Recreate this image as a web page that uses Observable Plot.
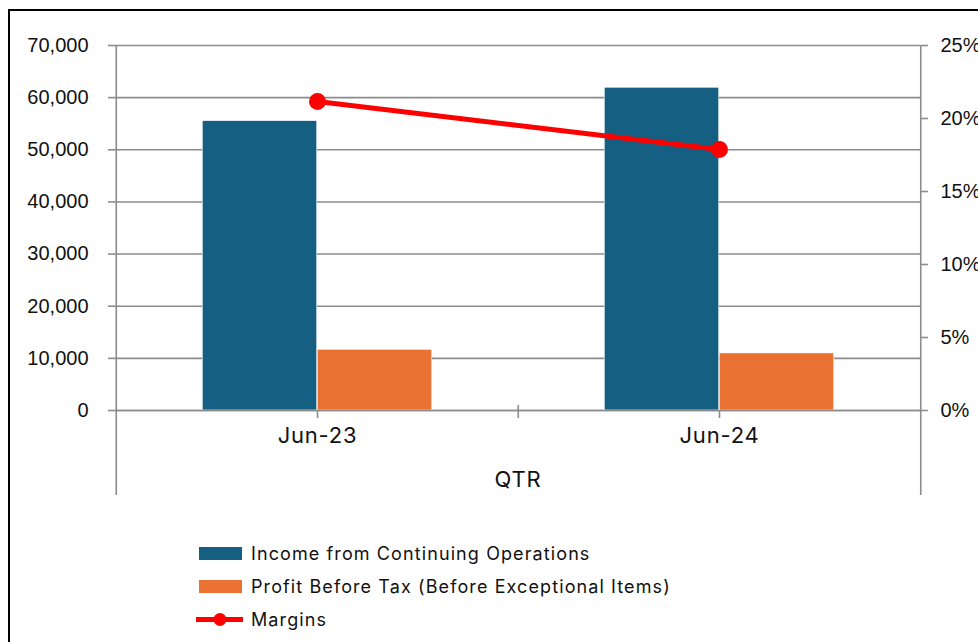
<!DOCTYPE html>
<html>
<head>
<meta charset="utf-8">
<script src="https://cdn.jsdelivr.net/npm/d3@7"></script>
<script src="https://cdn.jsdelivr.net/npm/@observablehq/plot@0.6"></script>
<style>
  html, body { margin: 0; padding: 0; background: #fff; overflow: hidden; }
  #wrap { position: relative; width: 978px; height: 642px; }
  #border { position: absolute; left: 8px; top: 9px; width: 1200px; height: 900px;
            border-left: 2.5px solid #000; border-top: 2.5px solid #000; box-sizing: border-box; }
  #chart { position: absolute; left: 0; top: 0; }
  #legend { position: absolute; left: 199px; top: 537px; font-family: "Inter", "Noto Sans", sans-serif;
            font-size: 18px; letter-spacing: 1.1px; color: #111; }
  .row { display: flex; align-items: center; height: 33px; }
  .sw { width: 43px; height: 13px; margin-right: 9px; position: relative; }
  .ln { width: 47px; height: 13px; margin-left: -3px; margin-right: 8px; position: relative; }
  #chart svg g[aria-label="x-axis tick label"] text,
  #chart svg g[aria-label="x-axis label"] text { letter-spacing: 0.8px; }
</style>
</head>
<body>
<div id="wrap">
  <div id="border"></div>
  <div id="chart"></div>
  <div id="legend"></div>
</div>
<script>
// ---- data ----
const categories = ["Jun-23", "Jun-24"];
const income = [55500, 61900];
const profitBeforeTax = [11650, 10950];
const margins = [0.2116, 0.1788];
const seriesNames = ["Income from Continuing Operations", "Profit Before Tax (Before Exceptional Items)", "Margins"];
const leftTicks = [0, 10000, 20000, 30000, 40000, 50000, 60000, 70000];
const rightTicks = [0, 0.05, 0.10, 0.15, 0.20, 0.25];
const axisLabel = "QTR";

// ---- styling ----
const colors = ["#156082", "#E97132", "#FF0000"];
const grid = "#8c8c8c";
const W = 978, H = 500, ML = 115, MR = 58, MT = 45, MB = 90;
const yMax = 70000, rMax = 0.25;
const toLeft = v => v / rMax * yMax;
const bw = (W - ML - MR) / categories.length;
const barW = 115;
const outer = bw / 2 - barW;

const rows = categories.map((c, i) => ({cat: c, income: income[i], pbt: profitBeforeTax[i], margin: margins[i]}));

const chart = Plot.plot({
  width: W, height: H,
  marginLeft: ML, marginRight: MR, marginTop: MT, marginBottom: MB,
  x: {type: "band", domain: categories, padding: 0},
  y: {domain: [0, yMax]},
  style: {fontFamily: "Liberation Sans, Arial, sans-serif", background: "transparent"},
  marks: [
    Plot.gridY(leftTicks, {stroke: grid, strokeOpacity: 1, strokeWidth: 1.6}),
    Plot.barY(rows, {x: "cat", y: "income", fill: colors[0], stroke: "#ffffff", strokeWidth: 0.6,
      insetLeft: outer, insetRight: bw / 2}),
    Plot.barY(rows, {x: "cat", y: "pbt", fill: colors[1], stroke: "#ffffff", strokeWidth: 0.6,
      insetLeft: bw / 2, insetRight: outer}),
    Plot.ruleY([0], {stroke: grid, strokeWidth: 1.6}),
    // vertical axis lines, extended down through the category area
    Plot.ruleX([categories[0]], {dx: -bw / 2, stroke: grid, strokeWidth: 1.6, insetBottom: -85}),
    Plot.ruleX([categories[categories.length - 1]], {dx: bw / 2, stroke: grid, strokeWidth: 1.6, insetBottom: -85}),
    // group separator tick
    Plot.ruleX(categories.slice(1), {dx: -bw / 2, stroke: grid, strokeWidth: 1.6, insetTop: (H - MT - MB) - 5, insetBottom: -8}),
    Plot.axisY({ticks: leftTicks, tickSize: 7, tickPadding: 20, stroke: grid, strokeWidth: 1.6,
      tickFormat: d3.format(","), fontSize: 20, fill: "#111", label: null}),
    Plot.axisY({anchor: "right", ticks: rightTicks.map(toLeft), tickSize: 7, tickPadding: 13, stroke: grid, strokeWidth: 1.6,
      tickFormat: d => d3.format(".0%")(d / yMax * rMax), fontSize: 20, fill: "#111", label: null, textAnchor: "start"}),
    Plot.axisX({tickSize: 8, tickPadding: 9, stroke: grid, strokeWidth: 1.6, fontSize: 22, fill: "#111",
      fontFamily: "Inter, Noto Sans, sans-serif",
      label: axisLabel, labelAnchor: "center", labelArrow: "none", labelOffset: 76}),
    Plot.line(rows, {x: "cat", y: d => toLeft(d.margin), stroke: colors[2], strokeWidth: 5}),
    Plot.dot(rows, {x: "cat", y: d => toLeft(d.margin), r: 8.5, fill: colors[2]})
  ]
});
document.getElementById("chart").appendChild(chart);

// ---- legend ----
const legend = document.getElementById("legend");
seriesNames.forEach((name, i) => {
  const row = document.createElement("div");
  row.className = "row";
  let key;
  if (i < 2) {
    key = `<div class="sw" style="background:${colors[i]}"></div>`;
  } else {
    key = `<svg class="ln" viewBox="0 0 47 13"><line x1="0" y1="6.5" x2="47" y2="6.5" stroke="${colors[2]}" stroke-width="5" stroke-linecap="round"/><circle cx="24" cy="6.5" r="6.5" fill="${colors[2]}"/></svg>`;
  }
  row.innerHTML = key + `<span>${name}</span>`;
  legend.appendChild(row);
});
</script>
</body>
</html>
